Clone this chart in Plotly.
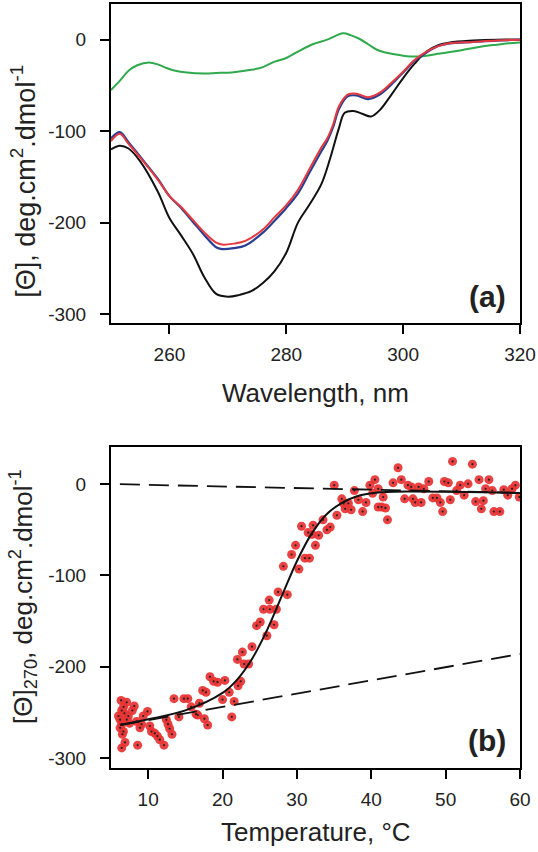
import plotly.graph_objects as go

# ---------------- Panel (a): CD spectra ----------------
wl_red = [250, 251.5, 253, 255, 258, 260, 262, 264, 266, 268, 269, 271, 273, 276, 278, 280, 282, 284, 286, 287,
          288, 289, 290.5, 292, 294, 296, 298, 300, 302, 304, 306, 308, 312, 316, 320]
cd_red = [-111, -103, -114, -129, -153, -171, -183, -197, -211, -222, -224, -223, -220, -207.5, -194, -181, -164, -141, -118, -108,
          -93, -73, -60, -59, -63, -58, -47, -35, -22, -13, -7, -4, -2.5, -1, 0]
cd_blue = [-108, -101, -112, -128, -152, -171, -184, -199, -214, -227, -229, -228, -225, -211, -198, -184, -168, -145, -122, -111,
           -96, -76, -62, -61, -65, -60, -49, -36, -23, -14, -7, -4, -2.5, -1, 0]

wl_black = [250, 251.5, 253, 255, 258, 260, 262, 264, 266, 268, 270, 272, 274, 276, 278, 280, 282, 284, 286, 287.5,
            289, 290, 291.5, 293, 294.5, 296, 298, 300, 302, 304, 306, 308, 312, 316, 320]
cd_black = [-120, -116, -119, -133, -166, -195, -214, -234, -260, -278, -281, -279, -275, -266, -253, -233, -200, -180, -158, -130,
            -97, -80, -78, -81, -84, -77, -60, -42, -26, -13, -6, -3, -1, 0, 0]

wl_green = [250, 251.5, 253, 254.5, 256.5, 258, 259.5, 261, 263, 266, 268, 271, 274, 276, 278, 280, 282, 284.5, 287,
            289.7, 291, 292.5, 294, 295.5, 297, 298.5, 300, 302, 304, 306, 308, 310, 313, 316, 318, 320]
cd_green = [-55, -45, -34, -28, -25, -27, -31, -34, -36, -37, -36.5, -35.5, -33, -30, -24, -20, -13, -5, 0,
            7, 5, 1, -5, -11, -14, -16, -17.5, -18.5, -17.5, -15.5, -13.5, -11.5, -8, -5.5, -4, -3]

# ---------------- Panel (b): thermal melt at 270 nm ----------------
temp = [6.36, 7.11, 8.13, 6.44, 7.87, 9.91, 6.00, 6.80, 7.33, 9.33,
        6.22, 7.11, 6.44, 8.44, 9.11, 6.22, 6.67, 8.89, 10.22, 6.53,
        6.89, 6.44, 8.58, 10.44, 10.89, 11.24, 11.56, 12.13, 12.44, 12.67,
        12.89, 13.20, 13.47, 14.13, 14.80, 15.33, 15.78, 16.44, 16.67, 16.89,
        17.56, 18.00, 17.33, 17.78, 18.31, 18.80, 19.33, 20.31, 20.00, 20.89,
        21.24, 21.56, 22.09, 22.44, 22.00, 22.67, 22.89, 7.50, 6.70,
        23.51, 23.96, 24.58, 25.07, 25.96, 26.93, 25.51, 26.36, 27.24, 26.27,
        27.47, 28.71, 28.18, 30.27, 29.29, 29.82, 31.07, 31.69, 32.49, 31.51,
        32.04, 32.93, 30.62, 32.18, 33.51, 34.04, 34.49, 35.38, 35.02, 36.04,
        36.27, 36.49, 36.93, 37.29, 37.73, 38.27, 38.84, 39.29, 39.82, 40.49,
        40.18, 40.93, 41.60, 41.38, 41.91, 42.18,
        43.60, 50.93, 53.60, 42.93, 44.04, 44.93, 45.38, 46.36, 47.07, 47.73,
        49.83, 50.36, 51.96, 53.02, 54.49, 55.82, 55.38, 56.27, 51.47, 50.62,
        52.49, 57.82, 58.36, 58.93, 59.38, 59.90, 44.49, 45.60, 45.91, 46.71,
        48.27, 48.84, 49.29, 49.60, 54.04, 55.07, 54.80, 56.49, 57.29, 40.93]
theta270 = [-237, -239, -243, -248, -248, -249, -254, -251, -254, -254,
            -258, -258, -263, -260, -263, -267, -271, -267, -265, -274,
            -283, -289, -286, -271, -273, -276, -280, -286, -258, -263,
            -268, -274, -235, -255, -235, -235, -244, -252, -253, -240,
            -257, -264, -226, -228, -211, -216, -217, -215, -236, -228,
            -255, -238, -221, -216, -192, -184, -197, -262, -244,
            -197, -178, -155, -151, -166, -154, -137, -137, -137, -127,
            -118, -121, -90, -93, -77, -67, -81, -81, -67, -53,
            -55, -56, -46, -45, -39, -50, -47, -34, -1, -16,
            -21, -27, -21, -28, -7, -17, -30, -20, -1, 5,
            -10, -25, -14, -25, -26, -39,
            18, 25, 22, 1.5, 5, -1, -3, -3, -5, 3,
            3, 1.5, -1, 0.4, 5, 5, -5, -7, -7, -17,
            -12, -6, -12, -5, -1, -14, -16, -16, -20, -20,
            -15, -15, -20, -30, -19, -18, -27, -30, -30, -5]

fit_temp = [6.2, 10, 15, 20, 22, 24, 26, 28, 30, 32, 34, 36, 38, 40, 42, 45, 50, 55, 60]
fit_theta = [-263.8, -257.6, -247.9, -228.7, -213.8, -191.0, -159.6, -121.9, -84.4, -53.9,
             -32.9, -20.6, -13.5, -10.0, -8.5, -8.0, -8.3, -8.9, -9.5]

base_temp = [6.2, 60]
base_unfolded = [0, -9.5]
base_folded = [-264, -186]

FONT = "Liberation Sans, Arial, sans-serif"
TXT = "#222222"

fig = go.Figure()

# panel a
fig.add_trace(go.Scatter(x=wl_green, y=cd_green, mode="lines",
                         line=dict(color="#2eaa4c", width=2, shape="spline"), xaxis="x", yaxis="y"))
fig.add_trace(go.Scatter(x=wl_black, y=cd_black, mode="lines",
                         line=dict(color="#111111", width=2, shape="spline"), xaxis="x", yaxis="y"))
fig.add_trace(go.Scatter(x=wl_red, y=cd_blue, mode="lines",
                         line=dict(color="#2a3f94", width=2.2, shape="spline"), xaxis="x", yaxis="y"))
fig.add_trace(go.Scatter(x=wl_red, y=cd_red, mode="lines",
                         line=dict(color="#e6393e", width=2, shape="spline"), xaxis="x", yaxis="y"))

# panel b
fig.add_trace(go.Scatter(x=temp, y=theta270, mode="markers",
                         marker=dict(color="rgba(232,50,50,0.92)", size=9, line=dict(width=0)),
                         xaxis="x2", yaxis="y2"))
fig.add_trace(go.Scatter(x=temp, y=theta270, mode="markers",
                         marker=dict(color="#222222", size=2.2, line=dict(width=0)),
                         xaxis="x2", yaxis="y2"))
fig.add_trace(go.Scatter(x=base_temp, y=base_unfolded, mode="lines",
                         line=dict(color="#111111", width=1.8, dash="20px,9px"), xaxis="x2", yaxis="y2"))
fig.add_trace(go.Scatter(x=base_temp, y=base_folded, mode="lines",
                         line=dict(color="#111111", width=1.8, dash="20px,9px"), xaxis="x2", yaxis="y2"))
fig.add_trace(go.Scatter(x=fit_temp, y=fit_theta, mode="lines",
                         line=dict(color="#111111", width=2, shape="spline"), xaxis="x2", yaxis="y2"))

axis_common = dict(showline=True, linewidth=2, linecolor="black", mirror=True,
                   ticks="outside", ticklen=9, tickwidth=1.5, tickcolor="black",
                   showgrid=False, zeroline=False,
                   tickfont=dict(family=FONT, size=19, color=TXT))

yvals = [0, -100, -200, -300]
ytext = ["0", "-100", "-200", "-300"]

fig.update_layout(
    width=538, height=852,
    margin=dict(l=111, r=16, t=2, b=84),
    paper_bgcolor="white", plot_bgcolor="white",
    showlegend=False,
    font=dict(family=FONT, color=TXT),
    xaxis=dict(domain=[0, 1], anchor="y", range=[250, 320],
               tickvals=[260, 280, 300, 320], ticktext=["260", "280", "300", "320"],
               ticklabelstandoff=4, **axis_common),
    yaxis=dict(domain=[0.5822, 1], anchor="x", range=[-310, 39],
               tickvals=yvals, ticktext=ytext, ticklabelstandoff=10, **axis_common),
    xaxis2=dict(domain=[0, 1], anchor="y2", range=[5, 60],
                tickvals=[10, 20, 30, 40, 50, 60], ticktext=["10", "20", "30", "40", "50", "60"],
                ticklabelstandoff=4, **axis_common),
    yaxis2=dict(domain=[0, 0.4204], anchor="x2", range=[-311, 41],
                tickvals=yvals, ticktext=ytext, ticklabelstandoff=10, **axis_common),
    annotations=[
        dict(text="<b>(a)</b>", x=0.92, y=0.6175, xref="paper", yref="paper", showarrow=False,
             xanchor="center", yanchor="middle", font=dict(family=FONT, size=30, color=TXT)),
        dict(text="<b>(b)</b>", x=0.92, y=0.0366, xref="paper", yref="paper", showarrow=False,
             xanchor="center", yanchor="middle", font=dict(family=FONT, size=30, color=TXT)),
        dict(text="Wavelength, nm", x=0.5, y=0.491, xref="paper", yref="paper", showarrow=False,
             xanchor="center", yanchor="middle", font=dict(family=FONT, size=26, color=TXT)),
        dict(text="Temperature, °C", x=0.5, y=-0.0836, xref="paper", yref="paper", showarrow=False,
             xanchor="center", yanchor="middle", font=dict(family=FONT, size=26, color=TXT)),
        dict(text="[Θ], deg.cm<sup>2</sup>.dmol<sup>-1</sup>", x=-0.214, y=0.768, xref="paper", yref="paper",
             showarrow=False, textangle=-90, xanchor="center", yanchor="middle",
             font=dict(family=FONT, size=27, color=TXT)),
        dict(text="[Θ]<sub>270</sub>, deg.cm<sup>2</sup>.dmol<sup>-1</sup>", x=-0.214, y=0.2245, xref="paper", yref="paper",
             showarrow=False, textangle=-90, xanchor="center", yanchor="middle",
             font=dict(family=FONT, size=26, color=TXT)),
    ],
)

fig.write_html("out.html", config={"displayModeBar": False},
               post_script="document.body.style.margin='0';document.body.style.padding='0';")
